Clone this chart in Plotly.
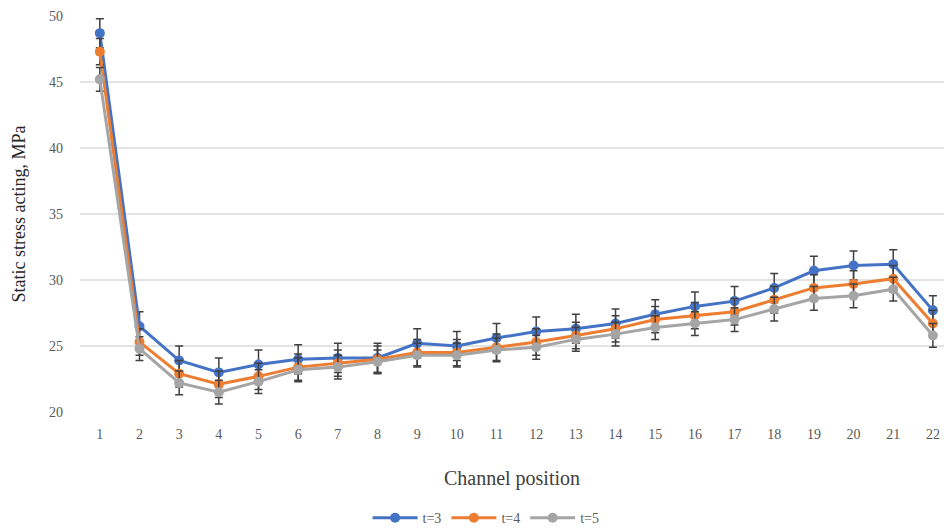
import plotly.graph_objects as go

positions = list(range(1, 23))
t3 = [48.7, 26.5, 23.9, 23.0, 23.6, 24.0, 24.1, 24.1, 25.2, 25.0, 25.6, 26.1, 26.3, 26.7, 27.4, 28.0, 28.4, 29.4, 30.7, 31.1, 31.2, 27.7]
t4 = [47.3, 25.3, 22.9, 22.1, 22.7, 23.4, 23.7, 24.0, 24.5, 24.5, 24.9, 25.3, 25.8, 26.3, 27.0, 27.3, 27.6, 28.5, 29.4, 29.7, 30.1, 26.7]
t5 = [45.2, 24.8, 22.2, 21.5, 22.3, 23.2, 23.4, 23.8, 24.3, 24.3, 24.7, 24.9, 25.5, 25.9, 26.4, 26.7, 27.0, 27.8, 28.6, 28.8, 29.3, 25.8]
err3 = 1.1
err4 = 1.0
err5 = 0.9
names = ["t=3", "t=4", "t=5"]
colors = ["#4472C4", "#ED7D31", "#A5A5A5"]

fig = go.Figure()
for name, ys, err, col in zip(names, [t3, t4, t5], [err3, err4, err5], colors):
    fig.add_trace(go.Scatter(
        x=positions, y=ys, name=name, mode="lines+markers",
        line=dict(color=col, width=3),
        marker=dict(color=col, size=10, symbol="circle"),
        error_y=dict(type="constant", value=err, color="#404040", thickness=1.5, width=4),
        cliponaxis=False,
    ))

font = "Liberation Serif, Times New Roman, serif"
fig.update_layout(
    width=944, height=530,
    margin=dict(l=80, r=0, t=16, b=118, autoexpand=False),
    paper_bgcolor="white", plot_bgcolor="white",
    font=dict(family=font, color="#595959"),
    showlegend=True,
    legend=dict(orientation="h", x=0.47, xanchor="center", y=-0.268, yanchor="middle",
                font=dict(size=14, color="#595959"), itemwidth=45, tracegroupgap=0),
    xaxis=dict(
        range=[0.5, 22.28], tickmode="array", tickvals=positions,
        ticktext=[str(p) for p in positions], automargin=False,
        showgrid=False, zeroline=False, showline=False, ticks="",
        tickfont=dict(size=14, color="#595959"), ticklabelstandoff=12,
        title=dict(text="Channel position", font=dict(size=20, color="#404040"), standoff=29),
    ),
    yaxis=dict(
        range=[20, 50], dtick=5, showgrid=True, gridcolor="#E3E3E3", gridwidth=1.5,
        zeroline=False, showline=False, ticks="", automargin=False,
        tickfont=dict(size=14, color="#595959"), ticklabelstandoff=16,
        title=dict(text="Static stress acting, MPa", font=dict(size=18, color="#262626"), standoff=18),
    ),
)
fig.write_html("out.html", config={"displayModeBar": False},
               post_script="document.body.style.margin='0';document.body.style.overflow='hidden';")
